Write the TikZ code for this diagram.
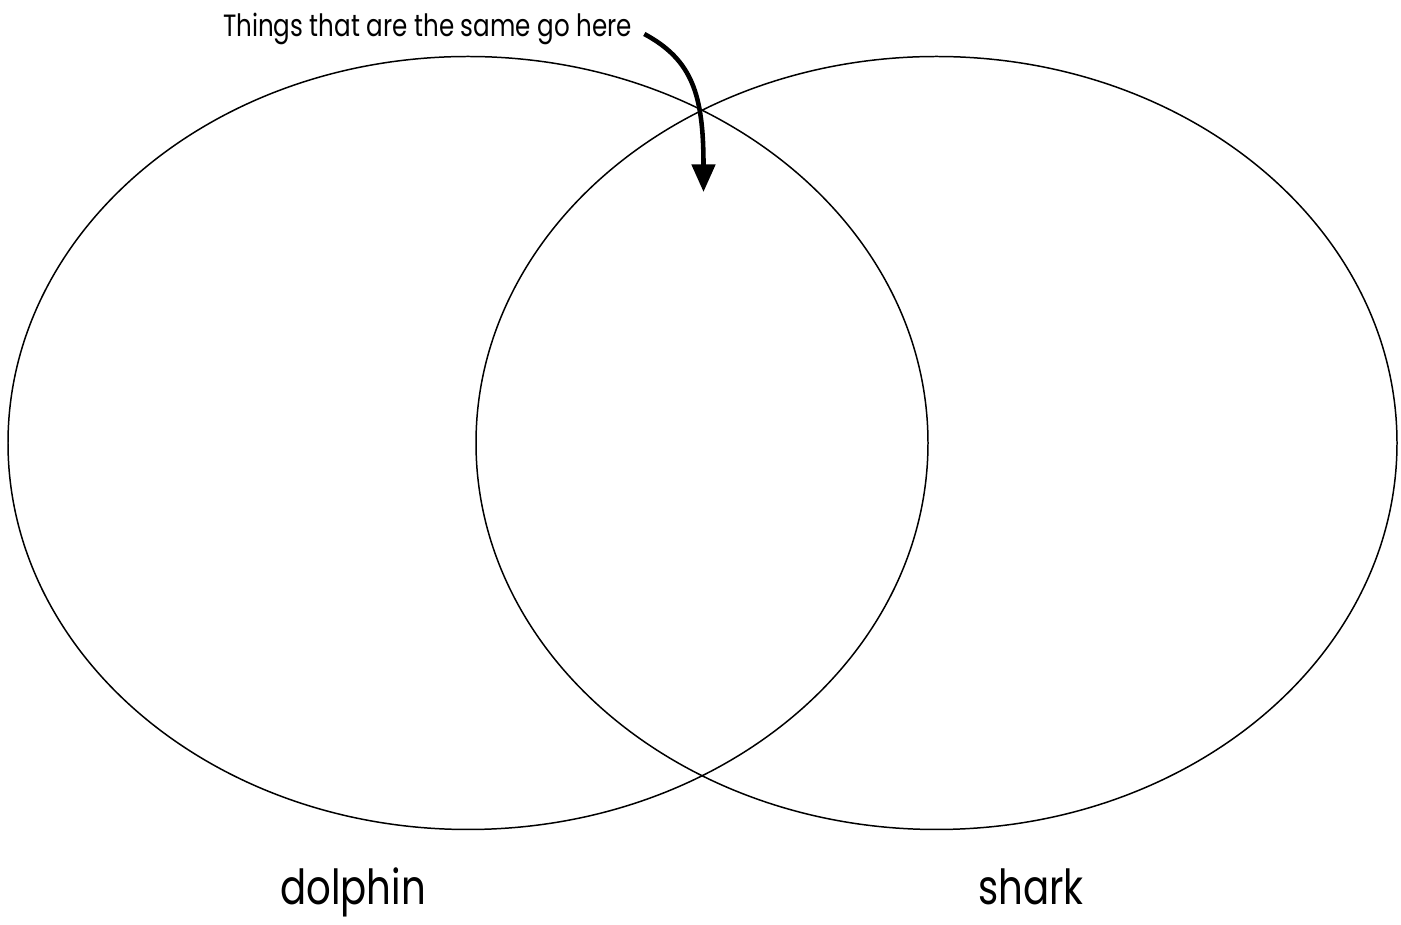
\documentclass[tikz,border=0pt]{standalone}
\usepackage{fontspec}
\setmainfont{Poppins}[FakeStretch=0.8]
\usepackage{tikz}
\usetikzlibrary{positioning,arrows.meta}

\tikzset{
	setline/.style={line width=0.85pt},
	setlabel/.style={font=\fontsize{27.5}{30}\selectfont, inner sep=0pt, anchor=base},
	pointer/.style={line width=2.6pt, -{Triangle[length=0.55cm,width=0.46cm]}}
}

\begin{document}
\begin{tikzpicture}
				\useasboundingbox (0,0) rectangle (28.02,18.5);
				% the two sets
				\draw[setline] (9.36,9.64) ellipse (9.2cm and 7.73cm);
				\draw[setline] (18.73,9.64) ellipse (9.21cm and 7.73cm);
				% names under the sets
				\node[setlabel] (dolphin) at (7.06,0.4) {dolphin};
				\node[setlabel] (shark) at (20.62,0.4) {shark};
				% the note and its arrow
				\node[font=\fontsize{17.5}{20}\selectfont, inner sep=0pt, anchor=base] (same) at (8.55,17.76) {Things that are the same go here};
				\coordinate[above right=0.06cm and 0.24cm of same.base east] (start);
				\coordinate (tip) at (14.07,14.66);
				\draw[pointer] (start) .. controls (13.85,17.3) and (14.07,16.6) .. (tip);
\end{tikzpicture}
\end{document}
